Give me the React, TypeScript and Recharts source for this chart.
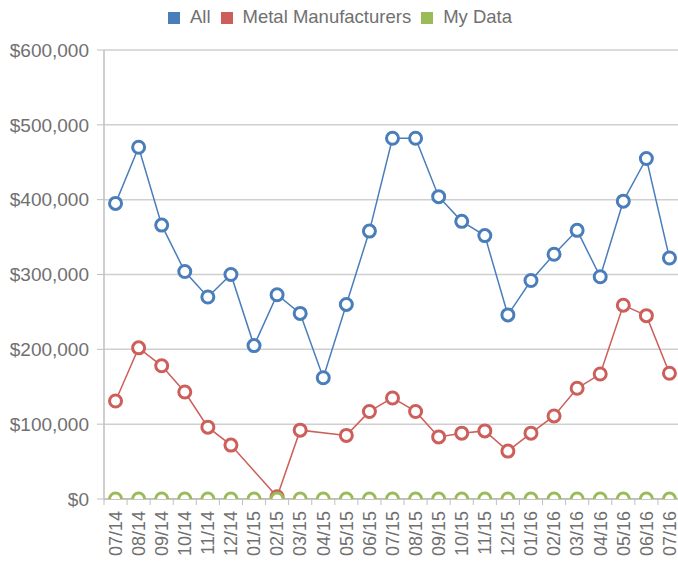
import React from "react";
import { LineChart, Line, XAxis, YAxis, CartesianGrid, Legend } from "recharts";

const months = [
  "07/14", "08/14", "09/14", "10/14", "11/14", "12/14", "01/15", "02/15", "03/15",
  "04/15", "05/15", "06/15", "07/15", "08/15", "09/15", "10/15", "11/15", "12/15",
  "01/16", "02/16", "03/16", "04/16", "05/16", "06/16", "07/16",
];

const allValues = [
  395000, 470000, 366000, 304000, 270000, 300000, 205000, 273000, 248000,
  162000, 260000, 358000, 482000, 482000, 404000, 371000, 352000, 246000,
  292000, 327000, 359000, 297000, 398000, 455000, 322000,
];

const metalValues = [
  131000, 202000, 178000, 143000, 96000, 72000, null, 3000, 92000,
  null, 85000, 117000, 135000, 117000, 83000, 88000, 91000, 64000,
  88000, 111000, 148000, 167000, 259000, 245000, 168000,
];

const myDataValues = [
  0, 0, 0, 0, 0, 0, 0, 0, 0, 0, 0, 0, 0, 0, 0, 0, 0, 0, 0, 0, 0, 0, 0, 0, 0,
];

const yTicks = [0, 100000, 200000, 300000, 400000, 500000, 600000];

const data = months.map((m, i) => ({
  month: m,
  all: allValues[i],
  metal: metalValues[i],
  mine: myDataValues[i],
}));

const W = 681;
const H = 565;
const Y_AXIS_W = 104;
const HALF_BAND = (W - Y_AXIS_W) / months.length / 2;
const TEXT = "#707070";
const FONT = "'Liberation Sans', Arial, sans-serif";

const money = (v: number) => "$" + v.toLocaleString("en-US");

function MonthTick(props: any) {
  const { x, y, payload, index } = props;
  const last = index === months.length - 1;
  return (
    <g>
      <line x1={x - HALF_BAND} y1={y} x2={x - HALF_BAND} y2={y + 6} stroke="#bfbfbf" />
      {last && <line x1={x + HALF_BAND} y1={y} x2={x + HALF_BAND} y2={y + 6} stroke="#bfbfbf" />}
      <text
        x={x}
        y={y + 12}
        transform={`rotate(-90, ${x}, ${y + 12})`}
        textAnchor="end"
        dy="0.35em"
        fill={TEXT}
        fontSize={18}
        fontFamily={FONT}
      >
        {payload.value}
      </text>
    </g>
  );
}

export default function App() {
  return (
    <div style={{ position: "absolute", left: 0, top: 0, width: 678, height: H, overflow: "hidden", background: "#fff" }}>
      <LineChart width={W} height={H} data={data} margin={{ top: 50, right: 0, left: 0, bottom: 0 }}>
        <CartesianGrid vertical={false} stroke="#cfcfcf" strokeWidth={1.5} />
        <XAxis
          dataKey="month"
          height={66}
          interval={0}
          padding={{ left: HALF_BAND, right: HALF_BAND }}
          tickLine={false}
          tickSize={0}
          tickMargin={0}
          axisLine={{ stroke: "#bfbfbf", strokeWidth: 1.5 }}
          tick={<MonthTick />}
        />
        <YAxis
          width={Y_AXIS_W}
          domain={[0, 600000]}
          ticks={yTicks}
          allowDataOverflow
          tickFormatter={money}
          tickSize={7}
          tickMargin={8}
          tickLine={{ stroke: "#bfbfbf" }}
          axisLine={{ stroke: "#bfbfbf", strokeWidth: 1.5 }}
          tick={{ fill: TEXT, fontSize: 19, fontFamily: FONT }}
        />
        <Legend
          verticalAlign="middle"
          align="center"
          layout="horizontal"
          iconType="square"
          iconSize={12}
          wrapperStyle={{ top: 6, left: 0, width: 690, fontFamily: FONT, fontSize: 18.5 }}
          formatter={(value: string) => <span style={{ color: TEXT, marginLeft: 6 }}>{value}</span>}
        />
        <Line
          name="All"
          dataKey="all"
          stroke="#4a7ebb"
          strokeWidth={1.5}
          dot={{ r: 6, strokeWidth: 3, fill: "#fff", stroke: "#4a7ebb" }}
          isAnimationActive={false}
        />
        <Line
          name="Metal Manufacturers"
          dataKey="metal"
          stroke="#cd5f5b"
          strokeWidth={1.5}
          connectNulls
          dot={{ r: 6, strokeWidth: 3, fill: "#fff", stroke: "#cd5f5b" }}
          isAnimationActive={false}
        />
        <Line
          name="My Data"
          dataKey="mine"
          stroke="#9bbb59"
          strokeWidth={1.5}
          dot={{ r: 6, strokeWidth: 3, fill: "#fff", stroke: "#9bbb59" }}
          isAnimationActive={false}
        />
      </LineChart>
    </div>
  );
}
